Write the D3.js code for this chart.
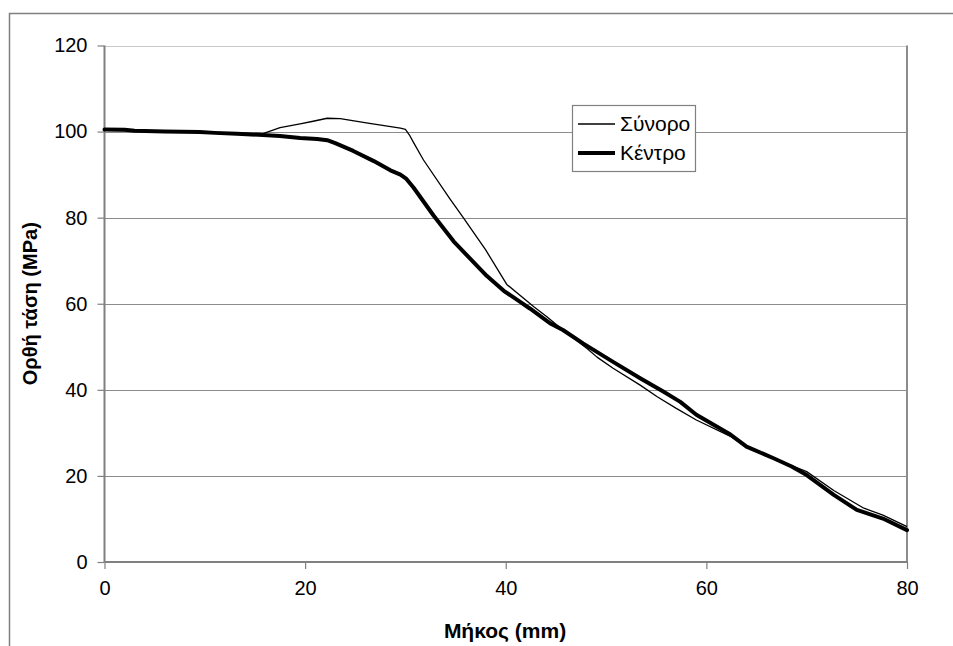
<!DOCTYPE html>
<html>
<head>
<meta charset="utf-8">
<script src="https://cdn.jsdelivr.net/npm/d3@7/dist/d3.min.js"></script>
<style>
  html, body { margin: 0; padding: 0; background: #fff; }
  svg { display: block; font-family: "Liberation Sans", Arial, sans-serif; }
</style>
</head>
<body>
<svg id="chart" width="953" height="646"></svg>
<script>
// Normal stress along the length: boundary (Σύνορο) and centre (Κέντρο)
const boundaryX = [0, 5, 10, 14, 15.8, 17.5, 19.5, 20.8, 22.2, 23.5, 26.1, 29.5, 30, 30.4, 30.8, 31.8, 34.4, 35.8, 38, 40.1, 42.8, 44.1, 45.7, 48.1, 49.1, 50.7, 53.4, 55.1, 57, 59, 62.4, 64, 66.7, 68.5, 70, 72.7, 75.7, 77.6, 80];
const boundaryY = [100.3, 100.1, 99.8, 99.6, 99.5, 100.9, 101.8, 102.4, 103.1, 103.0, 102.0, 100.8, 100.5, 99.2, 97.5, 93.4, 84.5, 79.9, 72.5, 64.5, 59.3, 57, 53.9, 49.6, 47.6, 45, 41.1, 38.4, 35.7, 33, 29.2, 26.8, 24.1, 22.4, 21, 16.6, 12.5, 10.9, 8.2];

const centreX = [0, 2, 3, 6, 9.5, 11, 13.2, 15.8, 17.5, 19.5, 21.2, 22.2, 23, 24.8, 26.8, 28.5, 29.5, 30.1, 30.8, 32.8, 34.8, 36.4, 38.1, 39.8, 41.4, 42.4, 44.4, 45.7, 47.7, 50.7, 53.4, 55.7, 57.4, 59, 62.4, 64, 66.7, 68.5, 70, 72.7, 75, 77.6, 80];
const centreY = [100.5, 100.4, 100.2, 100.0, 99.9, 99.7, 99.5, 99.2, 99.0, 98.5, 98.3, 98.0, 97.3, 95.5, 93.2, 91, 90, 89, 87, 80.5, 74.5, 70.6, 66.5, 63, 60.5, 58.9, 55.5, 53.9, 50.8, 46.5, 42.7, 39.6, 37.2, 34.2, 29.6, 26.8, 24.1, 22.2, 20.2, 15.6, 12.1, 10.1, 7.4];

const xTicks = [0, 20, 40, 60, 80];
const yTicks = [0, 20, 40, 60, 80, 100, 120];
const seriesNames = ["Σύνορο", "Κέντρο"];
const xTitle = "Μήκος (mm)";
const yTitle = "Ορθή τάση (MPa)";

const svg = d3.select("#chart");
const plot = { left: 104.5, right: 907, top: 45.5, bottom: 562 };

const x = d3.scaleLinear().domain([0, 80]).range([plot.left, plot.right]);
const y = d3.scaleLinear().domain([0, 120]).range([plot.bottom, plot.top]);

// outer chart frame
svg.append("rect")
  .attr("x", 9.5).attr("y", 13.5)
  .attr("width", 960).attr("height", 660)
  .attr("fill", "none").attr("stroke", "#808080").attr("stroke-width", 1.5);

// horizontal gridlines
svg.append("g")
  .selectAll("line")
  .data(yTicks.filter(d => d > 0))
  .join("line")
  .attr("x1", plot.left).attr("x2", plot.right)
  .attr("y1", d => Math.round(y(d)) + 0.5).attr("y2", d => Math.round(y(d)) + 0.5)
  .attr("stroke", d => d === 120 ? "#c8c8c8" : "#8c8c8c")
  .attr("stroke-width", 1.2);

// right border of the plot area
svg.append("line")
  .attr("x1", plot.right).attr("x2", plot.right)
  .attr("y1", plot.top).attr("y2", plot.bottom)
  .attr("stroke", "#8c8c8c").attr("stroke-width", 2);

// axes
const yAxis = d3.axisLeft(y).tickValues(yTicks).tickSize(7).tickPadding(10);
const xAxis = d3.axisBottom(x).tickValues(xTicks).tickSize(7).tickPadding(12);

const gy = svg.append("g").attr("transform", `translate(${plot.left},0)`).call(yAxis);
const gx = svg.append("g").attr("transform", `translate(0,${plot.bottom})`).call(xAxis);

[gx, gy].forEach(g => {
  g.select(".domain").attr("stroke", "#808080").attr("stroke-width", 2);
  g.selectAll(".tick line").attr("stroke", "#808080").attr("stroke-width", 1.2);
  g.selectAll(".tick text")
    .attr("fill", "#000")
    .style("font-size", "20px")
    .style("font-family", "'Liberation Sans', Arial, sans-serif");
});
gx.select(".domain").attr("d", `M${plot.left},0H${plot.right}`);
gy.select(".domain").attr("d", `M0,${plot.top}V${plot.bottom}`);

// series lines
const line = d3.line().x(d => x(d[0])).y(d => y(d[1])).curve(d3.curveLinear);
const boundary = boundaryX.map((v, i) => [v, boundaryY[i]]);
const centre = centreX.map((v, i) => [v, centreY[i]]);

svg.append("path")
  .datum(boundary)
  .attr("d", line)
  .attr("fill", "none").attr("stroke", "#000")
  .attr("stroke-width", 1.3).attr("stroke-linejoin", "round");

svg.append("path")
  .datum(centre)
  .attr("d", line)
  .attr("fill", "none").attr("stroke", "#000")
  .attr("stroke-width", 4).attr("stroke-linejoin", "round").attr("stroke-linecap", "round");

// axis titles
svg.append("text")
  .attr("x", 505)
  .attr("y", 638)
  .attr("text-anchor", "middle")
  .style("font-size", "21px").style("font-weight", "bold")
  .text(xTitle);

svg.append("text")
  .attr("transform", `translate(37,${(plot.top + plot.bottom) / 2}) rotate(-90)`)
  .attr("text-anchor", "middle")
  .style("font-size", "20px").style("font-weight", "bold")
  .text(yTitle);

// legend
const legend = svg.append("g");
legend.append("rect")
  .attr("x", 572.5).attr("y", 105.5)
  .attr("width", 123).attr("height", 66)
  .attr("fill", "#fff").attr("stroke", "#808080").attr("stroke-width", 1.2);

const legendRows = [
  { name: seriesNames[0], width: 1.3, cy: 124 },
  { name: seriesNames[1], width: 4, cy: 153 }
];
legendRows.forEach(r => {
  legend.append("line")
    .attr("x1", 578).attr("x2", 615)
    .attr("y1", r.cy).attr("y2", r.cy)
    .attr("stroke", "#000").attr("stroke-width", r.width);
  legend.append("text")
    .attr("x", 620).attr("y", r.cy + 7)
    .style("font-size", "21px")
    .text(r.name);
});
</script>
</body>
</html>
